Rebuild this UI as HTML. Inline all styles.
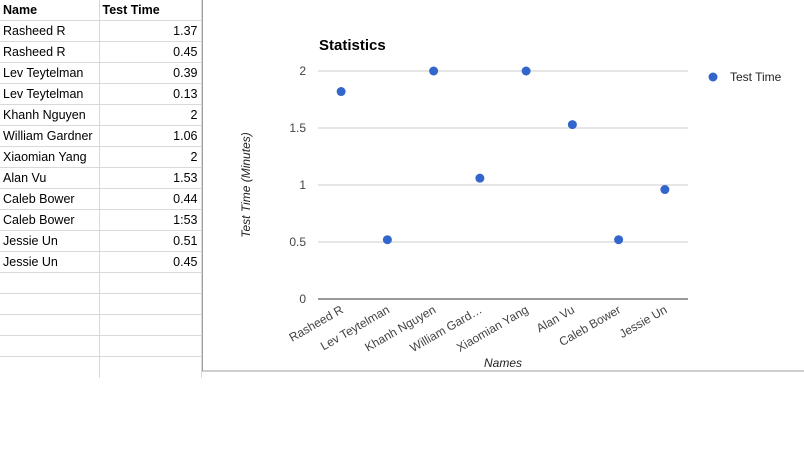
<!DOCTYPE html>
<html><head><meta charset="utf-8"><style>
body{margin:0;width:804px;height:449px;overflow:hidden;background:#fff;font-family:"Liberation Sans",Arial,sans-serif}
table{position:absolute;left:0;top:0;border-collapse:collapse;font-size:12.5px;color:#000;table-layout:fixed;width:201px}
td{height:21px;border-right:1px solid #d9d9d9;border-bottom:1px solid #d9d9d9;padding:0 3px;box-sizing:border-box;line-height:20px;white-space:nowrap;overflow:hidden}
td.a{width:99px}td.b{width:102px;text-align:right}
tr.h td{font-weight:bold;height:20px}
</style></head><body>
<table>
<tr class="h"><td class="a">Name</td><td class="b" style="text-align:left">Test Time</td></tr>
<tr><td class="a">Rasheed R</td><td class="b">1.37</td></tr>
<tr><td class="a">Rasheed R</td><td class="b">0.45</td></tr>
<tr><td class="a">Lev Teytelman</td><td class="b">0.39</td></tr>
<tr><td class="a">Lev Teytelman</td><td class="b">0.13</td></tr>
<tr><td class="a">Khanh Nguyen</td><td class="b">2</td></tr>
<tr><td class="a">William Gardner</td><td class="b">1.06</td></tr>
<tr><td class="a">Xiaomian Yang</td><td class="b">2</td></tr>
<tr><td class="a">Alan Vu</td><td class="b">1.53</td></tr>
<tr><td class="a">Caleb Bower</td><td class="b">0.44</td></tr>
<tr><td class="a">Caleb Bower</td><td class="b">1:53</td></tr>
<tr><td class="a">Jessie Un</td><td class="b">0.51</td></tr>
<tr><td class="a">Jessie Un</td><td class="b">0.45</td></tr>
<tr><td class="a"></td><td class="b"></td></tr>
<tr><td class="a"></td><td class="b"></td></tr>
<tr><td class="a"></td><td class="b"></td></tr>
<tr><td class="a"></td><td class="b"></td></tr>
<tr><td class="a" style="border-bottom:none"></td><td class="b" style="border-bottom:none"></td></tr>
</table>
<svg id="chart" style="position:absolute;left:0;top:0" width="804" height="449" font-family="Liberation Sans, Arial, sans-serif">
<rect x="202.5" y="-1" width="603" height="372" fill="#fff" stroke="#9e9e9e"/>
<text x="319" y="50" font-size="15" font-weight="bold" fill="#000">Statistics</text>
<circle cx="713" cy="77" r="4.5" fill="#3366cc"/>
<text x="730" y="81" font-size="12" fill="#222">Test Time</text>
<text transform="translate(250,185) rotate(-90)" text-anchor="middle" font-size="12" font-style="italic" fill="#222">Test Time (Minutes)</text>
<text x="503" y="367" text-anchor="middle" font-size="12" font-style="italic" fill="#222">Names</text>
<g id="g"></g>
</svg>
<script>
const categories=["Rasheed R","Lev Teytelman","Khanh Nguyen","William Gard…","Xiaomian Yang","Alan Vu","Caleb Bower","Jessie Un"];
const values=[1.82,0.52,2,1.06,2,1.53,0.52,0.96];
const yTicks=[0,0.5,1,1.5,2];
const yTickLabels=["0","0.5","1","1.5","2"];
const L=318,R=688,T=71,B=299,ymax=2;
const band=(R-L)/categories.length;
const xs=i=>L+band*(i+0.5);
const ys=v=>B-(v/ymax)*(B-T);
const g=document.getElementById('g');
const NS="http://www.w3.org/2000/svg";
function mk(t,a){const e=document.createElementNS(NS,t);for(const k in a)e.setAttribute(k,a[k]);g.appendChild(e);return e;}
yTicks.forEach((v,i)=>{
  const y=ys(v);
  const ln=mk('line',{x1:L,x2:R,y1:y,y2:y,stroke:v===0?'#333':'#ccc','stroke-width':1});
  
  
  const t=mk('text',{x:306,y:y+4,'text-anchor':'end','font-size':12,fill:'#444'});
  t.textContent=yTickLabels[i];
  
  
});
categories.forEach((c,i)=>{
  const x=xs(i);
  const t=mk('text',{transform:`translate(${x+3},${B+13}) rotate(-30)`,'text-anchor':'end','font-size':12,fill:'#444'});
  t.textContent=c;
  
  
  const p=mk('circle',{cx:x,cy:ys(values[i]),r:4.5,fill:'#3366cc'});
  
  
});
</script>
</body></html>
